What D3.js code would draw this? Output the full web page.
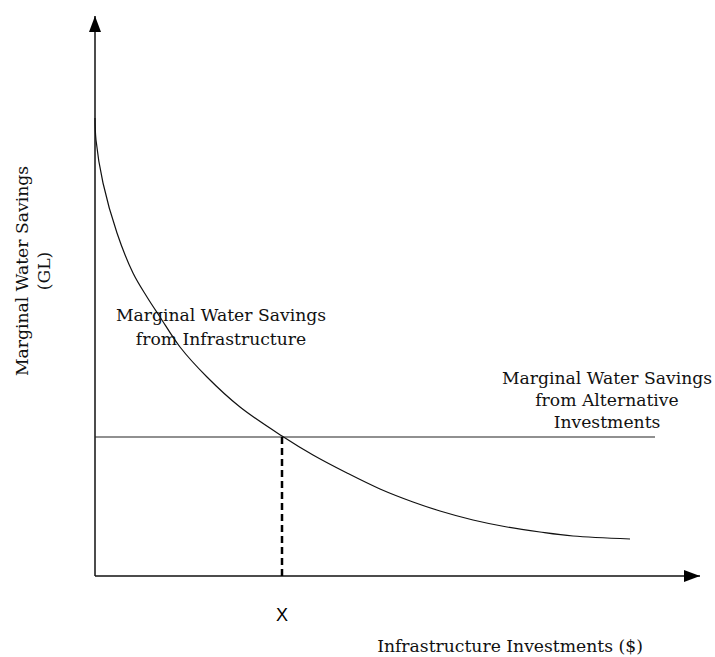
<!DOCTYPE html>
<html>
<head>
<meta charset="utf-8">
<script src="https://cdn.jsdelivr.net/npm/d3@7"></script>
<style>
  body { margin: 0; background: #fff; }
  svg { display: block; }
  .lbl { font-family: "DejaVu Serif", serif; font-size: 17.2px; fill: #111; }
</style>
</head>
<body>
<svg width="715" height="657"></svg>
<script>
// curve: investment (x) vs marginal savings (y), arbitrary units
const curveX = [0, 1, 8, 22, 38, 52, 65, 85, 112, 145, 187, 218, 252, 285, 318, 345, 378, 412, 445, 478, 535];
const curveY = [458, 436, 393, 343, 303, 279, 259, 229, 199, 169, 140, 121, 103, 87, 74, 65, 56, 49, 44, 40, 37];
const altLevel = 139;      // alternative investments, flat
const altEnd = 560;
const crossX = 187;        // point X where the two meet
const xLabelTick = ["X"];

const svg = d3.select("svg");

const x = d3.scaleLinear().domain([0, 605]).range([95, 700]);
const y = d3.scaleLinear().domain([0, 560]).range([576, 16]);

const defs = svg.append("defs");
defs.append("marker")
  .attr("id", "arrow")
  .attr("viewBox", "0 0 16 12")
  .attr("refX", 16)
  .attr("refY", 6)
  .attr("markerWidth", 16)
  .attr("markerHeight", 12)
  .attr("markerUnits", "userSpaceOnUse")
  .attr("orient", "auto")
  .append("path")
  .attr("d", "M0,0 L16,6 L0,12 Z")
  .attr("fill", "#000");

// axes
svg.append("line")
  .attr("x1", x(0)).attr("x2", x(0))
  .attr("y1", y(0)).attr("y2", y(560))
  .attr("stroke", "#111").attr("stroke-width", 1.5)
  .attr("marker-end", "url(#arrow)");

svg.append("line")
  .attr("x1", x(0)).attr("x2", x(605))
  .attr("y1", y(0)).attr("y2", y(0))
  .attr("stroke", "#111").attr("stroke-width", 1.5)
  .attr("marker-end", "url(#arrow)");

// alternative investments line
svg.append("line")
  .attr("x1", x(0)).attr("x2", x(altEnd))
  .attr("y1", y(altLevel)).attr("y2", y(altLevel))
  .attr("stroke", "#222").attr("stroke-width", 1.2);

// infrastructure curve
const pts = curveX.map((d, i) => [d, curveY[i]]);
const line = d3.line()
  .x(d => x(d[0]))
  .y(d => y(d[1]))
  .curve(d3.curveCatmullRom.alpha(0.5));

svg.append("path")
  .datum(pts)
  .attr("d", line)
  .attr("fill", "none")
  .attr("stroke", "#111")
  .attr("stroke-width", 1.2);

// dashed drop line
svg.append("line")
  .attr("x1", x(crossX)).attr("x2", x(crossX))
  .attr("y1", y(altLevel)).attr("y2", y(0))
  .attr("stroke", "#000").attr("stroke-width", 2.5)
  .attr("stroke-dasharray", "7,4");

svg.selectAll(".xtick")
  .data(xLabelTick)
  .enter().append("text")
  .attr("class", "xtick")
  .attr("x", x(crossX))
  .attr("y", 621)
  .attr("text-anchor", "middle")
  .style("font-family", "Liberation Sans, Arial, sans-serif")
  .style("font-size", "18px")
  .text(d => d);

// labels
function block(lines, cx, y0, dy) {
  const t = svg.append("text").attr("class", "lbl").attr("text-anchor", "middle");
  lines.forEach((s, i) => {
    t.append("tspan").attr("x", cx).attr("y", y0 + i * dy).text(s);
  });
}

block(["Marginal Water Savings", "from Infrastructure"], 221, 321, 24);
block(["Marginal Water Savings", "from Alternative", "Investments"], 607, 384, 22);

svg.append("text")
  .attr("class", "lbl")
  .attr("x", 510)
  .attr("y", 652)
  .attr("text-anchor", "middle")
  .text("Infrastructure Investments ($)");

const yl = svg.append("text")
  .attr("class", "lbl")
  .attr("text-anchor", "middle")
  .attr("transform", "translate(0,271) rotate(-90)");
yl.append("tspan").attr("x", 0).attr("y", 28).text("Marginal Water Savings");
yl.append("tspan").attr("x", 0).attr("y", 50).text("(GL)");
</script>
</body>
</html>
